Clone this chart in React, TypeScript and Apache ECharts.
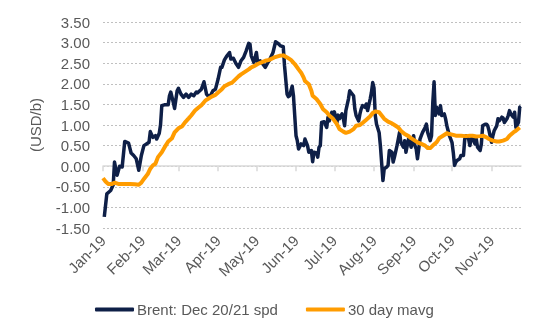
import React, { useEffect, useRef } from "react";
import * as echarts from "echarts";

// Day of year (0 = 1 Jan 2019) for month starts and their labels
const monthStartDays = [0, 31, 59, 90, 120, 151, 181, 212, 243, 273, 304];
const monthLabels = ["Jan-19", "Feb-19", "Mar-19", "Apr-19", "May-19", "Jun-19", "Jul-19", "Aug-19", "Sep-19", "Oct-19", "Nov-19"];

// Brent: Dec 20/21 spread (USD/b)
const brentDays = [
  1, 3, 6, 8, 9, 11, 13, 15, 17, 20, 22, 24, 26, 28, 30, 32, 34, 36, 37, 39, 41, 42, 44, 45, 46, 48, 51, 52, 53, 55,
  56, 58, 59, 61, 63, 65, 67, 69, 71, 73, 74, 77, 79, 81, 82, 84, 86, 88, 90, 92, 93, 95, 97, 99, 100, 102, 104, 106, 108, 110,
  112, 114, 115, 116, 118, 120, 121, 123, 125, 127, 129, 130, 133, 135, 137, 139, 141, 142, 144, 145, 146, 148, 149, 151, 152, 153, 155, 157, 158, 160,
  161, 163, 164, 165, 167, 168, 169, 170, 171, 173, 175, 176, 177, 179, 180, 181, 183, 184, 185, 187, 188, 189, 190, 192, 193, 194, 196, 197, 198, 200,
  201, 202, 203, 205, 206, 207, 209, 210, 211, 212, 213, 214, 216, 217, 219, 220, 222, 223, 224, 226, 227, 228, 230, 231, 232, 233, 235, 236, 237, 239,
  240, 241, 243, 244, 245, 246, 248, 249, 250, 252, 253, 254, 256, 257, 258, 259, 260, 261, 263, 264, 265, 267, 268, 269, 270, 271, 273, 274, 275, 276,
  277, 279, 280, 282, 283, 284, 286, 287, 288, 289, 291, 292, 293, 295, 296, 297, 299, 300, 301, 302, 304, 305, 306, 308, 309, 310, 312, 313, 314, 316,
  317, 318, 319, 321, 322, 323, 325, 326, 327
];
const brentValues = [
  -1.23, -0.67, -0.59, -0.45, 0.1, -0.22, 0.0, -0.02, 0.6, 0.56, 0.32, 0.26, 0.18, -0.1, 0.26, 0.5, 0.54, 0.58, 0.84, 0.7, 0.74, 0.66, 0.8, 1.0, 1.47, 1.49, 1.49, 1.71, 1.8, 1.55,
  1.4, 1.83, 1.89, 1.75, 1.67, 1.75, 1.67, 1.75, 1.71, 1.8, 1.78, 1.87, 2.05, 1.75, 1.71, 1.71, 1.83, 1.87, 2.11, 2.4, 2.4, 2.58, 2.68, 2.76, 2.6, 2.62, 2.49, 2.4, 2.56, 2.64,
  2.8, 2.98, 2.96, 2.68, 2.52, 2.76, 2.52, 2.56, 2.48, 2.4, 2.52, 2.56, 2.76, 3.02, 2.98, 2.92, 2.9, 2.44, 1.75, 1.69, 1.71, 1.94, 1.71, 0.74, 0.62, 0.42, 0.54, 0.5, 0.66, 0.5,
  0.34, 0.38, 0.11, 0.34, 0.32, 0.22, 0.46, 0.5, 1.06, 1.08, 0.94, 1.19, 1.1, 1.31, 1.23, 1.32, 1.06, 1.24, 1.15, 1.27, 1.16, 0.98, 1.35, 1.63, 1.83, 1.79, 1.71, 1.39, 1.23, 1.1,
  1.27, 1.39, 1.47, 1.43, 1.51, 1.35, 1.63, 1.79, 2.03, 1.9, 1.23, 1.02, 0.82, 0.5, -0.35, -0.06, -0.02, 0.02, 0.38, 0.34, 0.1, 0.22, 0.5, 0.66, 0.82, 0.58, 0.46, 0.62, 0.34, 0.66,
  0.62, 0.46, 0.74, 0.5, 0.42, 0.18, 0.66, 0.74, 0.82, 0.94, 1.02, 0.82, 0.62, 0.74, 1.55, 2.05, 1.23, 1.43, 1.27, 1.47, 1.23, 1.27, 1.15, 0.98, 0.86, 0.74, 0.58, 0.34, 0.02, 0.1,
  0.14, 0.18, 0.26, 0.26, 0.66, 0.74, 0.66, 0.5, 0.66, 0.7, 0.54, 0.66, 0.46, 0.38, 0.54, 0.98, 1.02, 1.02, 0.98, 0.86, 0.58, 0.74, 0.86, 0.98, 1.15, 1.1, 1.19, 1.17, 1.06, 1.15,
  1.23, 1.35, 1.27, 1.19, 1.31, 0.94, 1.06, 1.43, 1.45
];

// 30 day moving average
const mavgDays = [
  0, 2, 4, 7, 9, 12, 16, 21, 25, 28, 30, 32, 35, 37, 39, 41, 43, 46, 49, 51, 54, 56, 59, 62, 64, 67, 69, 72, 75, 77,
  80, 82, 85, 88, 90, 93, 95, 98, 101, 103, 106, 108, 111, 114, 116, 119, 121, 124, 127, 130, 134, 138, 141, 144, 147, 150, 153, 155, 157, 158,
  161, 163, 164, 167, 170, 172, 175, 177, 180, 183, 185, 188, 190, 193, 196, 198, 201, 203, 206, 209, 211, 213, 216, 218, 220, 223, 226, 228, 231, 233,
  236, 239, 241, 244, 246, 249, 252, 254, 256, 258, 261, 263, 266, 269, 271, 274, 276, 280, 284, 287, 289, 292, 295, 297, 300, 302, 305, 308, 310, 313,
  316, 318, 321, 323, 326
];
const mavgValues = [
  -0.29, -0.37, -0.43, -0.43, -0.4, -0.43, -0.43, -0.43, -0.44, -0.45, -0.4, -0.31, -0.19, -0.06, 0.02, 0.06, 0.22, 0.34, 0.5, 0.6, 0.68, 0.82, 0.92, 0.97, 1.06, 1.16, 1.23, 1.35, 1.43, 1.48,
  1.59, 1.63, 1.69, 1.73, 1.79, 1.87, 1.94, 1.99, 2.03, 2.09, 2.18, 2.23, 2.29, 2.35, 2.4, 2.44, 2.48, 2.52, 2.56, 2.58, 2.64, 2.68, 2.69, 2.64, 2.58, 2.48, 2.35, 2.27, 2.15, 2.07,
  1.99, 1.83, 1.71, 1.63, 1.51, 1.39, 1.31, 1.23, 1.15, 1.02, 0.9, 0.84, 0.81, 0.84, 0.9, 0.98, 1.0, 1.05, 1.13, 1.21, 1.29, 1.33, 1.31, 1.23, 1.15, 1.08, 1.04, 1.0, 0.94, 0.86,
  0.78, 0.73, 0.68, 0.62, 0.58, 0.54, 0.5, 0.44, 0.44, 0.5, 0.58, 0.68, 0.74, 0.8, 0.78, 0.76, 0.74, 0.74, 0.73, 0.74, 0.74, 0.72, 0.73, 0.74, 0.7, 0.66, 0.62, 0.6, 0.6, 0.62,
  0.66, 0.74, 0.82, 0.86, 0.94
];

const seriesNames = ["Brent: Dec 20/21 spd", "30 day mavg"];
const lastDay = 327;

const FONT = "'Liberation Sans', Arial, sans-serif";
const TEXT = "#595959";

export default function App() {
  const ref = useRef<HTMLDivElement>(null);
  useEffect(() => {
    if (!ref.current) return;
    const chart = echarts.init(ref.current, undefined, { renderer: "svg" });
    const labelFor = (v: number) => {
      const i = monthStartDays.indexOf(Math.round(v));
      return i >= 0 ? monthLabels[i] : "";
    };
    chart.setOption({
      animation: false,
      textStyle: { fontFamily: FONT },
      grid: { left: 103, right: 36, top: 22, bottom: 106, containLabel: false },
      legend: {
        left: 90,
        top: 297,
        itemGap: 28,
        itemWidth: 39,
        itemHeight: 4,
        icon: "roundRect",
        textStyle: { color: TEXT, fontSize: 15, fontFamily: FONT, padding: [0, 0, 0, -2] },
        data: seriesNames,
      },
      xAxis: [
        {
          type: "value",
          min: 0,
          max: lastDay,
          position: "bottom",
          axisLine: { show: false, onZero: false },
          axisTick: { show: false },
          splitLine: { show: false },
          axisLabel: {
            customValues: monthStartDays,
            formatter: labelFor,
            rotate: 45,
            margin: 10,
            color: TEXT,
            fontSize: 15,
            fontFamily: FONT,
          },
        },
        {
          type: "value",
          min: 0,
          max: lastDay,
          position: "top",
          axisLine: { show: true, onZero: true, lineStyle: { color: "#d9d9d9", width: 1.5 } },
          axisTick: { show: true, inside: true, length: 5, customValues: monthStartDays, lineStyle: { color: "#d9d9d9", width: 1.5 } },
          axisLabel: { show: false },
          splitLine: { show: false },
        },
      ],
      yAxis: {
        type: "value",
        min: -1.5,
        max: 3.5,
        interval: 0.5,
        name: "(USD/b)",
        nameLocation: "middle",
        nameGap: 60,
        nameRotate: 90,
        nameTextStyle: { color: TEXT, fontSize: 15, fontFamily: FONT },
        axisLine: { show: false },
        axisTick: { show: false },
        axisLabel: {
          color: TEXT,
          fontSize: 15,
          fontFamily: FONT,
          margin: 13,
          formatter: (v: number) => v.toFixed(2),
        },
        splitLine: { show: true, lineStyle: { color: "#c0c0c0", type: [2, 2], width: 1 } },
      },
      series: [
        {
          name: seriesNames[0],
          type: "line",
          xAxisIndex: 0,
          data: brentDays.map((d, i) => [d, brentValues[i]]),
          showSymbol: false,
          symbol: "none",
          lineStyle: { color: "#0e1f47", width: 3.5, join: "round" },
          itemStyle: { color: "#0e1f47" },
          z: 3,
        },
        {
          name: seriesNames[1],
          type: "line",
          xAxisIndex: 0,
          data: mavgDays.map((d, i) => [d, mavgValues[i]]),
          showSymbol: false,
          symbol: "none",
          lineStyle: { color: "#ff9c00", width: 4, join: "round" },
          itemStyle: { color: "#ff9c00" },
          z: 4,
        },
      ],
    });
    return () => chart.dispose();
  }, []);
  return <div ref={ref} style={{ position: "fixed", left: 0, top: 0, width: 557, height: 334 }} />;
}
